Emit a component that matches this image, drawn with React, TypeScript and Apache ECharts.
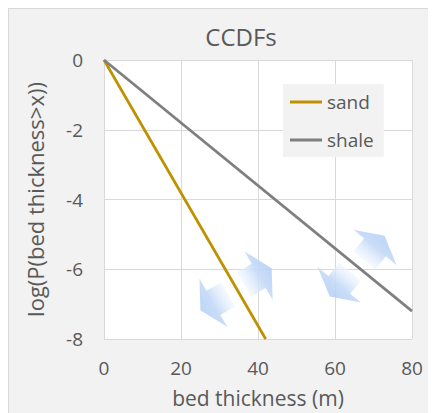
import React, { useEffect, useRef } from "react";
import * as echarts from "echarts";

// Data
const seriesNames = ["sand", "shale"];
const sandX = [0, 42];
const sandY = [0, -8];
const shaleX = [0, 80];
const shaleY = [0, -7.2];
const xTicks = [0, 20, 40, 60, 80];
const yTicks = [-8, -6, -4, -2, 0];

// Decorative arrows (anchor in data coords, pointing angle in screen degrees)
const arrowX = [29.1, 39.5, 61.6, 69.9];
const arrowY = [-6.92, -6.23, -6.38, -5.44];
const arrowAngle = [150, -30, 129.3, -50.7];

const FONT = "'Open Sans', 'Noto Sans', sans-serif";
const TEXT = "#595959";

export default function App() {
  const ref = useRef<HTMLDivElement>(null);
  useEffect(() => {
    if (!ref.current) return;
    const chart = echarts.init(ref.current, null, { renderer: "svg" });
    const option: any = {
      animation: false,
      backgroundColor: "transparent",
      textStyle: { fontFamily: FONT, color: TEXT },
      title: {
        text: "CCDFs",
        left: 227,
        top: 10,
        textAlign: "center",
        textStyle: { fontFamily: FONT, fontSize: 24, fontWeight: "normal", color: TEXT },
      },
      grid: {
        left: 95,
        top: 51,
        right: 24,
        bottom: 72,
        show: true,
        backgroundColor: "#ffffff",
        borderWidth: 0,
      },
      legend: {
        orient: "vertical",
        left: 274,
        top: 75,
        backgroundColor: "#f2f2f2",
        padding: [7, 10, 6, 7],
        itemWidth: 32,
        itemHeight: 3,
        itemGap: 16,
        textStyle: { fontFamily: FONT, fontSize: 19, color: TEXT, lineHeight: 22 },
        data: seriesNames.map((n) => ({ name: n, icon: "rect" })),
      },
      xAxis: {
        type: "value",
        min: xTicks[0],
        max: xTicks[xTicks.length - 1],
        interval: 20,
        name: "bed thickness (m)",
        nameLocation: "middle",
        nameGap: 48,
        nameTextStyle: { fontFamily: FONT, fontSize: 21, color: TEXT },
        axisLine: { show: false },
        axisTick: { show: false },
        axisLabel: { fontFamily: FONT, fontSize: 19, color: TEXT, margin: 19 },
        splitLine: { show: true, lineStyle: { color: "#d9d9d9", width: 1 } },
      },
      yAxis: {
        type: "value",
        min: yTicks[0],
        max: yTicks[yTicks.length - 1],
        interval: 2,
        name: "log(P(bed thickness>x))",
        nameLocation: "middle",
        nameGap: 58,
        nameTextStyle: { fontFamily: FONT, fontSize: 22, color: TEXT },
        axisLine: { show: false },
        axisTick: { show: false },
        axisLabel: { fontFamily: FONT, fontSize: 19, color: TEXT, margin: 21 },
        splitLine: { show: true, lineStyle: { color: "#d9d9d9", width: 1 } },
      },
      series: [
        {
          name: seriesNames[0],
          type: "line",
          data: sandX.map((x, i) => [x, sandY[i]]),
          symbol: "none",
          lineStyle: { color: "#bf9000", width: 2.75 },
          itemStyle: { color: "#bf9000" },
          z: 3,
        },
        {
          name: seriesNames[1],
          type: "line",
          data: shaleX.map((x, i) => [x, shaleY[i]]),
          symbol: "none",
          lineStyle: { color: "#7f7f7f", width: 2.75 },
          itemStyle: { color: "#7f7f7f" },
          z: 3,
        },
      ],
    };
    chart.setOption(option);

    // Decorative arrows
    const SH = 17;
    const TIP = 15;
    const local = [
      [-SH, -14],
      [0, -14],
      [0, -28],
      [TIP, 0],
      [0, 28],
      [0, 14],
      [-SH, 14],
    ];
    const graphics = arrowX.map((ax, i) => {
      const p = chart.convertToPixel({ gridIndex: 0 }, [ax, arrowY[i]]) as number[];
      const t = (arrowAngle[i] * Math.PI) / 180;
      const ct = Math.cos(t);
      const st = Math.sin(t);
      const c = [p[0] + 3 * ct, p[1] + 3 * st];
      const pts = local.map(([u, v]) => [c[0] + u * ct - v * st, c[1] + u * st + v * ct]);
      const tail = [c[0] - SH * ct, c[1] - SH * st];
      const tip = [c[0] + TIP * ct, c[1] + TIP * st];
      return {
        type: "polygon",
        z: 1,
        silent: true,
        shape: { points: pts },
        style: {
          fill: new echarts.graphic.LinearGradient(
            tail[0],
            tail[1],
            tip[0],
            tip[1],
            [
              { offset: 0, color: "rgba(240,246,254,0.6)" },
              { offset: 0.55, color: "rgba(196,217,247,0.9)" },
              { offset: 1, color: "rgba(178,206,245,0.85)" },
            ],
            true
          ),
        },
      };
    });
    chart.setOption({ graphic: graphics });

    return () => chart.dispose();
  }, []);

  return (
    <div
      style={{
        width: 428,
        height: 405,
        background: "#f2f2f2",
        borderTop: "1px solid #d9d9d9",
        borderLeft: "1px solid #d9d9d9",
        boxSizing: "border-box",
      }}
    >
      <div ref={ref} style={{ width: 427, height: 404 }} />
    </div>
  );
}
